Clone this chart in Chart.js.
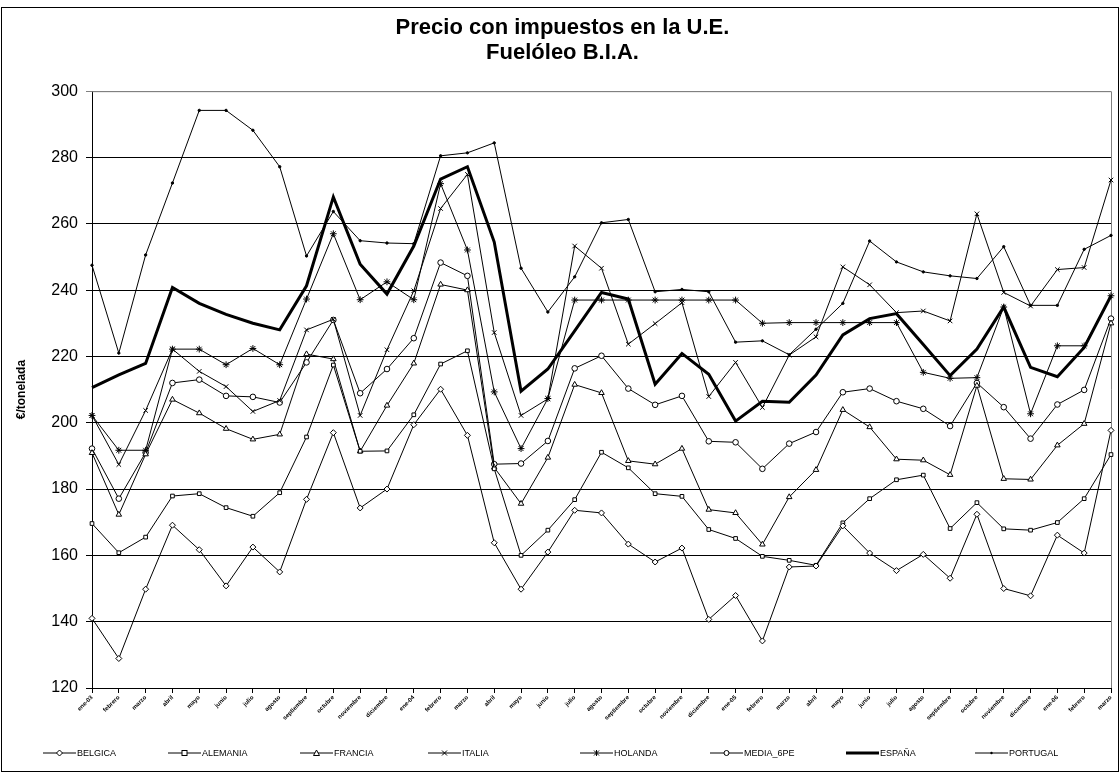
<!DOCTYPE html>
<html>
<head>
<meta charset="utf-8">
<script src="https://cdn.jsdelivr.net/npm/chart.js@4.4.1/dist/chart.umd.min.js"></script>
<style>
  html, body { margin: 0; padding: 0; background: #fff; }
  #wrap { position: relative; width: 1120px; height: 772px; }
  #frame { position: absolute; left: 1px; top: 7px; width: 1116px; height: 763px; border: 1px solid #000; pointer-events: none; }
  #legend { position: absolute; left: 0; top: 745px; width: 1120px; height: 16px; font: 9px Arial, "Liberation Sans", sans-serif; color: #000; }
  .item { position: absolute; top: 0; height: 16px; display: flex; align-items: center; }
  .item svg { margin-right: 1px; }
</style>
</head>
<body>
<div id="wrap">
  <canvas id="chart" width="1120" height="772"></canvas>
  <div id="frame"></div>
  <div id="legend"></div>
</div>
<script>
// ===== Data =====
const MONTHS = ['febrero', 'marzo', 'abril', 'mayo', 'junio', 'julio', 'agosto', 'septiembre', 'octubre', 'noviembre', 'diciembre'];
const LABELS = [
  'ene-03', ...MONTHS,
  'ene-04', ...MONTHS,
  'ene-05', ...MONTHS,
  'ene-06', 'febrero', 'marzo',
];

const Y_TICKS = [120, 140, 160, 180, 200, 220, 240, 260, 280, 300];

const BELGICA = [141, 128.9, 149.8, 169.1, 161.7, 150.8, 162.5, 155, 176.9, 197, 174.3, 180, 199.4, 210.1, 196.2, 163.8, 149.8, 161, 173.6, 172.8, 163.4, 158, 162.2, 140.7, 147.9, 134.2, 156.5, 156.8, 168.9, 160.7, 155.4, 160.3, 153.1, 172.4, 150, 147.8, 166.1, 160.7, 197.7];
const ALEMANIA = [169.6, 160.8, 165.5, 177.9, 178.6, 174.4, 171.8, 178.9, 195.7, 217.4, 191.4, 191.5, 202.4, 217.7, 221.7, 186.1, 160, 167.6, 176.8, 191.1, 186.4, 178.6, 177.8, 167.8, 165.1, 159.7, 158.5, 157, 169.8, 177.1, 182.8, 184.2, 168.1, 175.9, 168, 167.6, 169.9, 177.1, 190.4];
const FRANCIA = [190.9, 172.3, 190.5, 207, 202.9, 198.2, 195, 196.5, 220.7, 219.2, 191.4, 205.2, 217.9, 241.7, 240, 186.5, 175.6, 189.5, 211.5, 209, 188.5, 187.5, 192.2, 173.8, 172.8, 163.3, 177.6, 185.8, 203.9, 198.7, 189, 188.7, 184.3, 211.2, 183.1, 182.9, 193.2, 199.7, 230];
const ITALIA = [202.2, 187.4, 203.7, 222.2, 215.5, 210.9, 203.4, 206.7, 228, 231.2, 202.2, 222, 239.8, 264.6, 274.9, 227.2, 202.2, 207.2, 253.3, 246.6, 223.7, 229.9, 236.2, 207.9, 218.2, 204.6, 220.4, 225.9, 247, 241.6, 233.2, 233.7, 230.7, 263, 239.3, 235.2, 246.2, 246.8, 273.2];
const HOLANDA = [202.2, 191.7, 191.7, 222.2, 222.2, 217.5, 222.4, 217.5, 237.3, 257, 237.1, 242.5, 237.1, 272.1, 252.1, 209.3, 192.2, 207.3, 237, 237, 237, 237, 237, 237, 237, 230, 230.2, 230.2, 230.2, 230.2, 230.2, 215.2, 213.4, 213.6, 234.9, 202.7, 223.2, 223.2, 238.3];
const MEDIA_6PE = [192.2, 177.1, 191, 212, 213, 208.1, 207.8, 206.1, 218.2, 231, 208.9, 216.2, 225.5, 248.3, 244.3, 187.5, 187.7, 194.5, 216.4, 220.2, 210.3, 205.4, 208.1, 194.4, 194.1, 186.1, 193.7, 197.2, 209.2, 210.3, 206.5, 204.2, 199, 212, 204.7, 195.2, 205.5, 209.9, 231.4];
const ESPANA = [210.6, 214.4, 217.9, 240.8, 236, 232.7, 230, 228, 241.3, 268.1, 247.8, 238.8, 253.3, 273.5, 277.2, 254.5, 209.5, 216.2, 227.7, 239.3, 237.3, 211.6, 220.9, 214.6, 200.5, 206.5, 206.2, 214.4, 226.5, 231.4, 232.9, 223.6, 214.2, 222.2, 234.9, 216.7, 213.9, 222.7, 238.3];
const PORTUGAL = [247.5, 221, 250.6, 272.3, 294.2, 294.2, 288.2, 277.2, 250.3, 263.7, 254.9, 254.2, 254, 280.5, 281.4, 284.4, 246.6, 233.4, 244, 260.3, 261.3, 239.5, 240.2, 239.5, 224.3, 224.7, 220.5, 228.2, 236, 254.8, 248.5, 245.5, 244.3, 243.5, 253.1, 235.4, 235.4, 252.3, 256.5];

// ===== Styles =====
const FONT = 'Arial, "Liberation Sans", sans-serif';

const SERIES = [
  { label: 'BELGICA',   data: BELGICA,   style: 'rectRot',  radius: 3,   width: 1 },
  { label: 'ALEMANIA',  data: ALEMANIA,  style: 'rect',     radius: 2.6, width: 1 },
  { label: 'FRANCIA',   data: FRANCIA,   style: 'triangle', radius: 3.2, width: 1 },
  { label: 'ITALIA',    data: ITALIA,    style: 'crossRot', radius: 3.2, width: 1 },
  { label: 'HOLANDA',   data: HOLANDA,   style: 'star',     radius: 3.4, width: 1 },
  { label: 'MEDIA_6PE', data: MEDIA_6PE, style: 'circle',   radius: 2.8, width: 1 },
  { label: 'ESPAÑA',    data: ESPANA,    style: false,      radius: 0,   width: 3 },
  { label: 'PORTUGAL',  data: PORTUGAL,  style: 'circle',   radius: 1.2, width: 1, filled: true },
];

const LEGEND_X = [43, 168, 300, 428, 580, 710, 846, 975];

// Outer plot frame (top/right) in grey like the spreadsheet
const plotFrame = {
  id: 'plotFrame',
  beforeDatasetsDraw(chart) {
    const { ctx, chartArea: a } = chart;
    ctx.save();
    ctx.strokeStyle = '#808080';
    ctx.lineWidth = 1;
    ctx.beginPath();
    ctx.moveTo(a.left, a.top + 0.5);
    ctx.lineTo(a.right + 0.5, a.top + 0.5);
    ctx.lineTo(a.right + 0.5, a.bottom);
    ctx.stroke();
    ctx.restore();
  },
};

const ctx = document.getElementById('chart').getContext('2d');
new Chart(ctx, {
  type: 'line',
  data: {
    labels: LABELS,
    datasets: SERIES.map((s) => ({
      label: s.label,
      data: s.data,
      borderColor: '#000',
      borderWidth: s.width,
      backgroundColor: s.filled ? '#000' : '#fff',
      pointStyle: s.style,
      pointRadius: s.radius,
      pointBorderWidth: 1,
      pointBorderColor: '#000',
      pointBackgroundColor: s.filled ? '#000' : '#fff',
      tension: 0,
      fill: false,
    })),
  },
  options: {
    responsive: false,
    animation: false,
    events: [],
    layout: { padding: { top: 6, left: 14, right: 9, bottom: 40 } },
    scales: {
      x: {
        offset: false,
        border: { color: '#000', width: 1 },
        grid: { display: true, drawOnChartArea: false, drawTicks: true, tickLength: 5, color: '#000' },
        ticks: {
          autoSkip: false,
          minRotation: 45,
          maxRotation: 45,
          padding: 1,
          color: '#000',
          font: { family: FONT, size: 6, weight: 'bold' },
        },
        afterFit: (scale) => { scale.height = 44; },
      },
      y: {
        min: Y_TICKS[0],
        max: Y_TICKS[Y_TICKS.length - 1],
        afterBuildTicks: (scale) => { scale.ticks = Y_TICKS.map((v) => ({ value: v })); },
        border: { color: '#000', width: 1 },
        grid: {
          color: (c) => (c.tick && c.tick.value === 300 ? '#808080' : '#000'),
          lineWidth: 1,
          tickLength: 6,
        },
        ticks: {
          color: '#000',
          padding: 8,
          font: { family: FONT, size: 16 },
        },
        title: {
          display: true,
          text: '€/tonelada',
          color: '#000',
          padding: 0,
          font: { family: FONT, size: 12, weight: 'bold' },
        },
        afterFit: (scale) => { scale.width = 78; },
      },
    },
    plugins: {
      legend: { display: false },
      tooltip: { enabled: false },
      title: {
        display: true,
        text: ['Precio con impuestos en la U.E.', 'Fuelóleo B.I.A.'],
        color: '#000',
        padding: { top: 9, bottom: 26 },
        font: { family: FONT, size: 22, weight: 'bold', lineHeight: 1.14 },
      },
    },
  },
  plugins: [plotFrame],
});

// ===== Legend (HTML) =====
function markerSvg(s) {
  const cx = 16.5, cy = 5;
  let m = '';
  switch (s.style) {
    case 'rectRot': m = `<polygon points="${cx},${cy - 3} ${cx + 3},${cy} ${cx},${cy + 3} ${cx - 3},${cy}" fill="#fff" stroke="#000"/>`; break;
    case 'rect': m = `<rect x="${cx - 2.5}" y="${cy - 2.5}" width="5" height="5" fill="#fff" stroke="#000"/>`; break;
    case 'triangle': m = `<polygon points="${cx},${cy - 3} ${cx + 3},${cy + 2.5} ${cx - 3},${cy + 2.5}" fill="#fff" stroke="#000"/>`; break;
    case 'crossRot': m = `<path d="M${cx - 2.5} ${cy - 2.5}L${cx + 2.5} ${cy + 2.5}M${cx + 2.5} ${cy - 2.5}L${cx - 2.5} ${cy + 2.5}" stroke="#000"/>`; break;
    case 'star': m = `<path d="M${cx - 2.5} ${cy - 2.5}L${cx + 2.5} ${cy + 2.5}M${cx + 2.5} ${cy - 2.5}L${cx - 2.5} ${cy + 2.5}M${cx} ${cy - 3}L${cx} ${cy + 3}" stroke="#000"/>`; break;
    case 'circle':
      m = s.filled
        ? `<circle cx="${cx}" cy="${cy}" r="1.2" fill="#000"/>`
        : `<circle cx="${cx}" cy="${cy}" r="2.5" fill="#fff" stroke="#000"/>`;
      break;
    default: m = '';
  }
  return `<svg width="33" height="10" viewBox="0 0 33 10"><line x1="0" y1="${cy}" x2="33" y2="${cy}" stroke="#000" stroke-width="${s.width}"/>${m}</svg>`;
}

const legend = document.getElementById('legend');
SERIES.forEach((s, i) => {
  const el = document.createElement('div');
  el.className = 'item';
  el.style.left = LEGEND_X[i] + 'px';
  el.innerHTML = markerSvg(s) + '<span>' + s.label + '</span>';
  legend.appendChild(el);
});
</script>
</body>
</html>
